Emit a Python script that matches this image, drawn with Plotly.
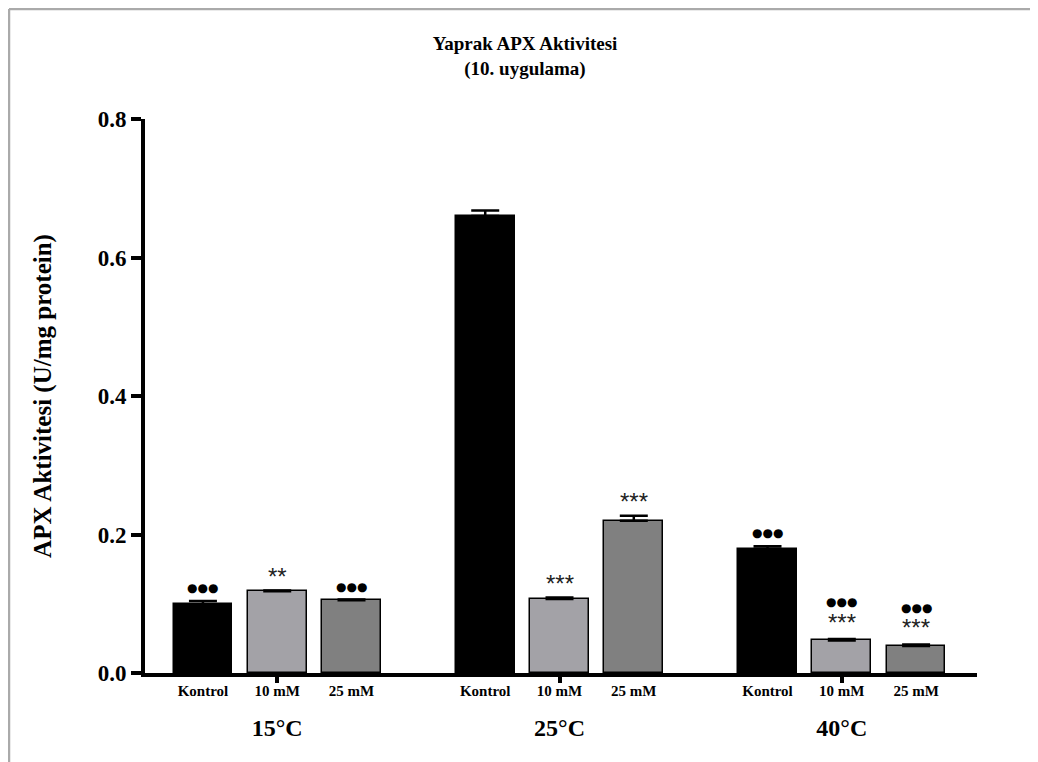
import plotly.graph_objects as go

# ---- data ----
groups = ["15°C", "25°C", "40°C"]
treatments = ["Kontrol", "10 mM", "25 mM"]
means_15 = [0.099, 0.118, 0.105]
means_25 = [0.660, 0.107, 0.220]
means_40 = [0.179, 0.047, 0.039]
sem_15 = [0.005, 0.001, 0.001]
sem_25 = [0.008, 0.002, 0.007]
sem_40 = [0.004, 0.002, 0.002]
stars_15 = ["", "**", ""]
stars_25 = ["", "***", "***"]
stars_40 = ["", "***", "***"]
dots_15 = ["●●●", "", "●●●"]
dots_25 = ["", "", ""]
dots_40 = ["●●●", "●●●", "●●●"]
colors = ["#000000", "#A3A2A7", "#808080"]
yticks = [0.0, 0.2, 0.4, 0.6, 0.8]

means = [means_15, means_25, means_40]
sems = [sem_15, sem_25, sem_40]
stars = [stars_15, stars_25, stars_40]
dots = [dots_15, dots_25, dots_40]

GROUP_STEP = 3.8
xs, ys, es, cols, labels = [], [], [], [], []
for g in range(len(groups)):
    for i in range(len(treatments)):
        xs.append(g * GROUP_STEP + i)
        ys.append(means[g][i])
        es.append(sems[g][i])
        cols.append(colors[i])
        labels.append(treatments[i])
group_centers = [g * GROUP_STEP + 1 for g in range(len(groups))]
xrange = [-0.78, 10.42]

SERIF = "Liberation Serif, Times New Roman, serif"
W, H = 1030, 754
L, R, T, B = 137, 61, 111, 89

fig = go.Figure()
fig.add_trace(go.Bar(
    x=xs, y=ys, width=0.79,
    marker=dict(color=cols, line=dict(color="#000000", width=1.5)),
    error_y=dict(type="data", symmetric=False, array=es, arrayminus=[0] * len(es),
                 color="#000000", thickness=2.5, width=14),
    showlegend=False, hoverinfo="y",
))
# invisible helper trace so the group axis (x2) is drawn
fig.add_trace(go.Scatter(x=group_centers, y=[0] * len(group_centers), xaxis="x2",
                         mode="markers", marker=dict(opacity=0), showlegend=False,
                         hoverinfo="skip"))

# significance marks
k = 0
for g in range(len(groups)):
    for i in range(len(treatments)):
        top = means[g][i] + sems[g][i]
        s = stars[g][i]
        d = dots[g][i]
        if s:
            fig.add_annotation(x=xs[k], y=top, text=s, showarrow=False,
                               yanchor="middle", yshift=(17 if d else 14),
                               font=dict(family="Liberation Sans, Arial", size=24, color="#222"))
        if d:
            fig.add_annotation(x=xs[k], y=top, text=d, showarrow=False,
                               yanchor="middle", yshift=(37 if s else 13),
                               font=dict(family="DejaVu Sans", size=12, color="#000"))
        k += 1

fig.update_layout(
    width=W, height=H,
    margin=dict(l=L, r=R, t=T, b=B),
    paper_bgcolor="white", plot_bgcolor="white",
    title=dict(text="<b>Yaprak APX Aktivitesi<br>(10. uygulama)</b>",
               x=517 / W, xanchor="center", y=0.944, yanchor="top",
               font=dict(family=SERIF, size=19, color="#000")),
    xaxis=dict(range=xrange, tickvals=xs, ticktext=[f"<b>{t}</b>" for t in labels],
               ticks="", ticklen=0, showline=True, linecolor="#000", linewidth=4,
               showgrid=False, zeroline=False, ticklabelstandoff=1,
               tickfont=dict(family=SERIF, size=15, color="#000")),
    xaxis2=dict(range=xrange, overlaying="x", anchor="y", side="bottom",
                tickvals=group_centers, ticktext=[f"<b>{t}</b>" for t in groups],
                ticks="outside", ticklen=9, tickwidth=4, tickcolor="#000",
                showline=False, showgrid=False, zeroline=False, ticklabelstandoff=24,
                tickfont=dict(family=SERIF, size=24, color="#000")),
    yaxis=dict(range=[0, 0.8], tickvals=yticks,
               ticktext=[f"<b>{v:.1f}</b>" for v in yticks],
               ticks="outside", ticklen=10, tickwidth=4, tickcolor="#000",
               showline=True, linecolor="#000", linewidth=4,
               showgrid=False, zeroline=False,
               tickfont=dict(family=SERIF, size=23, color="#000"),
               title=dict(text="<b>APX Aktivitesi (U/mg protein)</b>", standoff=40,
                          font=dict(family=SERIF, size=25, color="#000"))),
    bargap=0,
)

# page border (grey frame lines at top and left)
pw, ph = W - L - R, H - T - B
fig.add_shape(type="line", xref="paper", yref="paper",
              x0=-(L - 1) / pw, x1=1 + R / pw, y0=1 + (T - 1) / ph, y1=1 + (T - 1) / ph,
              line=dict(color="#AAAAAA", width=2.5))
fig.add_shape(type="line", xref="paper", yref="paper",
              x0=-(L - 1) / pw, x1=-(L - 1) / pw, y0=-B / ph, y1=1 + (T - 1) / ph,
              line=dict(color="#AAAAAA", width=2.5))

fig.write_html("out.html")
